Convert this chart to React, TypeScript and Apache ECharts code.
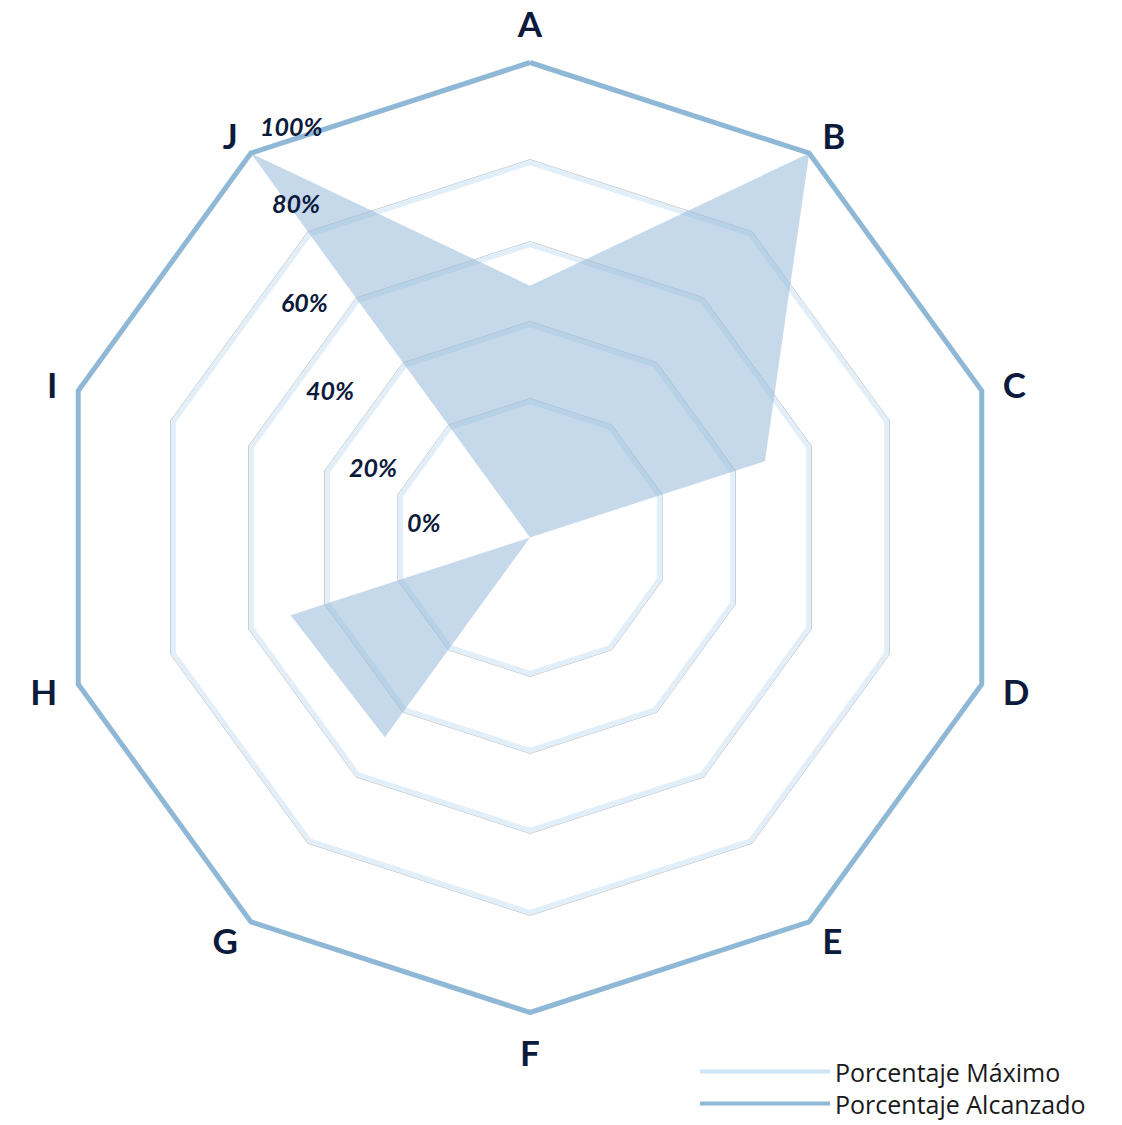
import React, { useEffect, useRef } from "react";
import * as echarts from "echarts";

// ---- data ----
const categories = ["A", "B", "C", "D", "E", "F", "G", "H", "I", "J"];
const porcentajeAlcanzado = [53, 100, 52, 0, 0, 0, 52, 53, 0, 100];
const porcentajeMaximo = [100, 100, 100, 100, 100, 100, 100, 100, 100, 100];
const tickLabels = ["0%", "20%", "40%", "60%", "80%", "100%"];
const seriesNames = ["Porcentaje Máximo", "Porcentaje Alcanzado"];

// ---- layout ----
const CENTER = [530, 537.5];
const OUTER_R = 475;
const RING_RADII = [136, 213, 293, 375];
const TICK_LABEL_POS = [
  [407, 522],
  [349, 467],
  [306, 390],
  [281, 302],
  [272, 203],
  [260, 126],
];

const NAVY = "#0c1a3c";
const DARK_BLUE = "#8fb7d6";
const LIGHT_RING = "#e2eef8";
const LEGEND_LIGHT = "#cce4f3";

// ECharts places indicators counter-clockwise; reorder so A..J run clockwise.
const order = [0, ...categories.map((_, i) => i).slice(1).reverse()];
const reorder = <T,>(arr: T[]) => order.map((i) => arr[i]);

function ringRadar(r: number, color: string, width: number) {
  return {
    indicator: reorder(categories).map((n) => ({ name: n, min: 0, max: 100 })),
    center: CENTER,
    radius: r,
    startAngle: 90,
    splitNumber: 1,
    shape: "polygon",
    axisName: { show: false },
    axisLine: { show: false },
    axisTick: { show: false },
    axisLabel: { show: false },
    splitArea: { show: false },
    splitLine: { show: true, lineStyle: { color, width } },
  };
}

export default function App() {
  const ref = useRef<HTMLDivElement>(null);
  useEffect(() => {
    document.body.style.margin = "0";
    if (!ref.current) return;
    const chart = echarts.init(ref.current, undefined, { renderer: "svg" });
    const option: any = {
      animation: false,
      backgroundColor: "#ffffff",
      radar: [
        {
          indicator: reorder(categories).map((n) => ({ name: n, min: 0, max: 100 })),
          center: CENTER,
          radius: OUTER_R,
          startAngle: 90,
          splitNumber: 1,
          shape: "polygon",
          nameGap: 22,
          axisName: {
            color: NAVY,
            fontSize: 35,
            fontWeight: "bold",
            fontFamily: "Lato",
          },
          axisLine: { show: false },
          axisTick: { show: false },
          axisLabel: { show: false },
          splitArea: { show: false },
          splitLine: { show: false },
        },
        ...RING_RADII.map((r) => ringRadar(r + 3, "rgba(150,158,168,0.55)", 1)),
        ...RING_RADII.map((r) => ringRadar(r, LIGHT_RING, 5)),
      ],
      legend: {
        orient: "vertical",
        left: 700,
        top: 1059,
        padding: 0,
        itemGap: 7,
        itemWidth: 130,
        itemHeight: 4,
        icon: "rect",
        textStyle: {
          fontFamily: "Open Sans",
          fontSize: 25,
          lineHeight: 25,
          color: "#1a1a1a",
          padding: [0, 0, 0, 0],
        },
        data: [
          { name: seriesNames[0], itemStyle: { color: LEGEND_LIGHT, borderWidth: 0 } },
          { name: seriesNames[1], itemStyle: { color: DARK_BLUE, borderWidth: 0 } },
        ],
      },
      graphic: tickLabels.map((t, i) => ({
        type: "text",
        x: TICK_LABEL_POS[i][0],
        y: TICK_LABEL_POS[i][1],
        style: {
          text: t,
          fill: NAVY,
          font: "italic bold 25px Lato",
          align: "left",
          verticalAlign: "middle",
        },
        z: 10,
      })),
      series: [
        {
          name: seriesNames[0],
          type: "radar",
          radarIndex: 0,
          symbol: "none",
          z: 2,
          lineStyle: { color: DARK_BLUE, width: 5 },
          itemStyle: { color: DARK_BLUE },
          data: [{ value: reorder(porcentajeMaximo), name: seriesNames[0] }],
        },
        {
          name: seriesNames[1],
          type: "radar",
          radarIndex: 0,
          symbol: "none",
          z: 3,
          lineStyle: { width: 0, opacity: 0 },
          itemStyle: { color: DARK_BLUE },
          areaStyle: { color: DARK_BLUE, opacity: 0.52 },
          data: [{ value: reorder(porcentajeAlcanzado), name: seriesNames[1] }],
        },
      ],
    };
    chart.setOption(option);
    return () => chart.dispose();
  }, []);
  return <div ref={ref} style={{ width: 1122, height: 1125 }} />;
}
